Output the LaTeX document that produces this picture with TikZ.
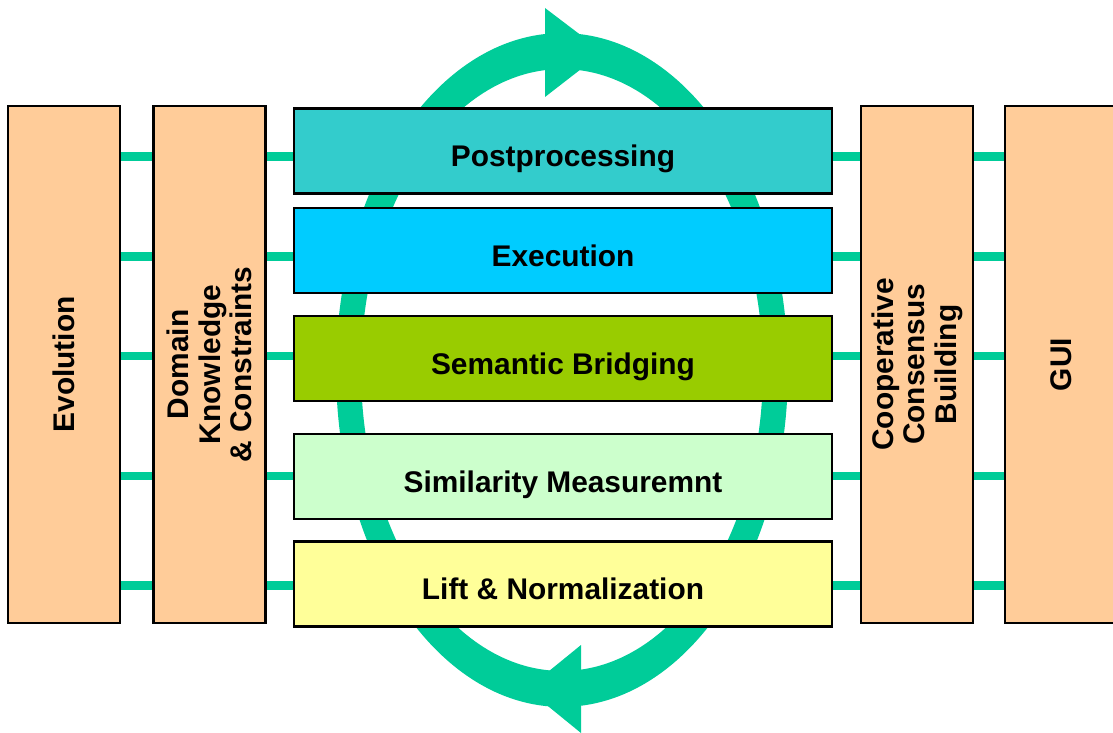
\documentclass[tikz,border=0pt]{standalone}
\usepackage{fontspec}
\setmainfont{Liberation Sans}
\usetikzlibrary{positioning}
\definecolor{peach}{HTML}{FFCC99}
\definecolor{postcol}{HTML}{33CCCC}
\definecolor{execcol}{HTML}{00CCFF}
\definecolor{semcol}{HTML}{99CC00}
\definecolor{simcol}{HTML}{CCFFCC}
\definecolor{liftcol}{HTML}{FFFF99}
\definecolor{loopgreen}{HTML}{00CC99}

\begin{document}
\begin{tikzpicture}[
    x=0.02cm, y=-0.02cm,
    pillar/.style={draw, line width=1.2pt, fill=peach, rotate=90, minimum width=10.34cm, minimum height=2.24cm, align=center, font=\bfseries\fontsize{17}{18}\selectfont},
    stage/.style={draw, line width=1.2pt, minimum width=10.76cm, minimum height=1.7cm, text height=0.75cm, text depth=0.12cm, font=\bfseries\fontsize{17}{20}\selectfont},
    link/.style={loopgreen, line width=0.18cm},
    loopfill/.style={fill=loopgreen}
]
    \useasboundingbox (0,0) rectangle (1113,733);

    % Cycle arrow
    \fill[loopfill, even odd rule] (562,370) ellipse [x radius=4.52cm, y radius=6.74cm]
        (562,370) ellipse [x radius=4.02cm, y radius=6.02cm];
    \fill[loopfill] (545,8) -- (545,97) -- (603,52) -- cycle;
    \fill[loopfill] (581,645) -- (581,733) -- (527,689) -- cycle;

    % Side pillars (rotated: .south is the right side, .north the left side)
    \node[pillar] (evo) at (64,364.5) {Evolution};
    \node[pillar] (dom) at (209.5,364.5) {Domain\\Knowledge\\\& Constraints};
    \node[pillar] (coop) at (917,364.5) {Cooperative\\Consensus\\Building};
    \node[pillar] (gui) at (1061,364.5) {GUI};

    % Stages
    \node[stage, fill=postcol] (post) at (563,151) {Postprocessing};
    \node[stage, fill=execcol] (exec) at (563,250.5) {Execution};
    \node[stage, fill=semcol] (sem) at (563,358.5) {Semantic Bridging};
    \node[stage, fill=simcol] (sim) at (563,476.5) {Similarity Measuremnt};
    \node[stage, fill=liftcol] (lift) at (563,584) {Lift \& Normalization};

    % Links
    \foreach \r/\y in {1/157, 2/257, 3/356, 4/476, 5/585}
        \coordinate (row\r) at (0,\y);
    \foreach \r in {1,...,5} {
        \draw[link] (evo.south |- row\r) -- (dom.north |- row\r);
        \draw[link] (dom.south |- row\r) -- (post.west |- row\r);
        \draw[link] (post.east |- row\r) -- (coop.north |- row\r);
        \draw[link] (coop.south |- row\r) -- (gui.north |- row\r);
    }
\end{tikzpicture}
\end{document}
